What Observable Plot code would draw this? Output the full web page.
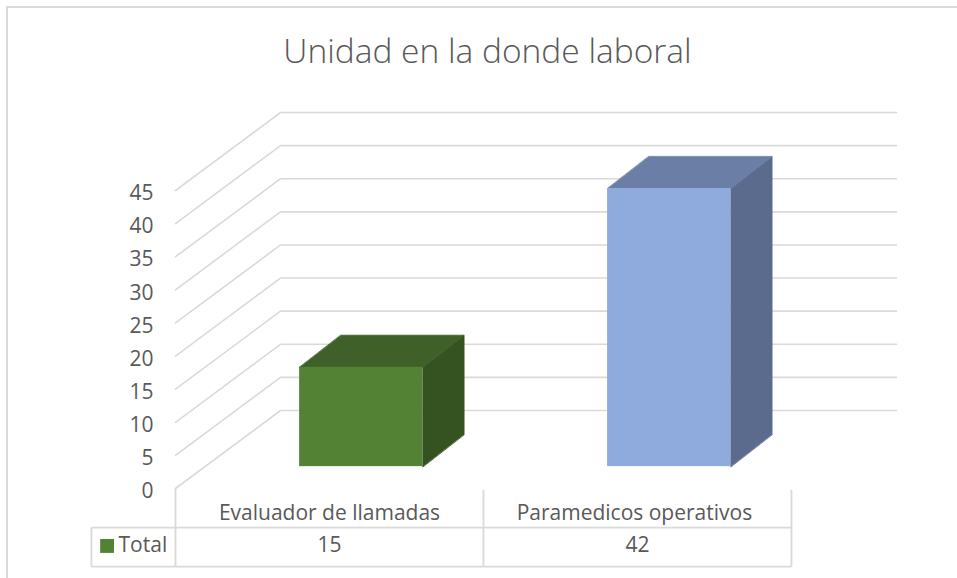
<!DOCTYPE html>
<html><head><meta charset="utf-8">
<script src="https://cdn.jsdelivr.net/npm/d3@7"></script>
<script src="https://cdn.jsdelivr.net/npm/@observablehq/plot@0.6"></script>
<style>
html,body{margin:0;padding:0;background:#fff;overflow:hidden}
#frame{position:absolute;left:6px;top:6px;width:951px;height:572px;border-left:2px solid #d9d9d9;border-top:2px solid #d9d9d9;box-sizing:border-box}
#title{position:absolute;left:0;top:0;width:975px;height:90px;text-align:center;font:300 33.5px/100px "Open Sans",sans-serif;color:#595959}
#chart{position:absolute;left:0;top:90px}
</style></head><body>
<div id="frame"></div>
<div id="title">Unidad en la donde laboral</div>
<div id="chart"></div>
<script>
const categories = ["Evaluador de llamadas", "Paramedicos operativos"];
const values = [15, 42];
const yTicks = [0, 5, 10, 15, 20, 25, 30, 35, 40, 45];
const seriesName = "Total";
const frontColors = ["#548235", "#8faadc"];
const topColors = ["#3f6129", "#6b7fa6"];
const sideColors = ["#345321", "#5a6b8d"];
const gridColor = "#d9d9d9", textColor = "#595959";
const font = "'Open Sans', sans-serif";
const labelSize = 21;

// oblique projection of the 3D chart, in scale units
const wallX = 0.341, wallY = 11.78;          // depth of the floor
const barOffsetX = 0.603, barBase = 3.3;     // front face of each bar
const barWidth = 0.4;
const barDepthX = 0.134, barDepthY = 4.85;
const row1 = -5.9, row2 = -11.8, labelY = -3.8, valueY = -8.6, tableLeft = -0.273;
const labelX = [0.5, 1.49];

const grid = yTicks.flatMap(t => [
  {t, x: 0, y: t},
  {t, x: wallX, y: t + wallY},
  {t, x: 2 + wallX, y: t + wallY}
]);

const bars = categories.map((c, i) => {
  const x1 = i + barOffsetX - barWidth / 2, x2 = x1 + barWidth;
  return {c, i, x1, x2, y1: barBase, y2: barBase + values[i]};
});
const topFace = bars.flatMap(b => [
  {i: b.i, x: b.x1, y: b.y2},
  {i: b.i, x: b.x2, y: b.y2},
  {i: b.i, x: b.x2 + barDepthX, y: b.y2 + barDepthY},
  {i: b.i, x: b.x1 + barDepthX, y: b.y2 + barDepthY}
]);
const sideFace = bars.flatMap(b => [
  {i: b.i, x: b.x2, y: b.y1},
  {i: b.i, x: b.x2, y: b.y2},
  {i: b.i, x: b.x2 + barDepthX, y: b.y2 + barDepthY},
  {i: b.i, x: b.x2 + barDepthX, y: b.y1 + barDepthY}
]);
const tableSegs = [
  [tableLeft, row1, 2, row1],
  [tableLeft, row2, 2, row2],
  [tableLeft, row1, tableLeft, row2],
  [0, 0, 0, row2],
  [1, -0.2, 1, row2],
  [2, -0.2, 2, row2]
].map(([x1, y1, x2, y2]) => ({x1, y1, x2, y2}));

const plot = Plot.plot({
  width: 957, height: 488,
  marginLeft: 175, marginRight: 61, marginTop: 22, marginBottom: 90,
  x: {domain: [0, 2 + wallX], axis: null},
  y: {domain: [0, 45 + wallY]},
  style: {background: "transparent", fontFamily: font},
  marks: [
    Plot.line(grid, {x: "x", y: "y", z: "t", stroke: gridColor, strokeWidth: 1.6}),
    Plot.axisY({ticks: yTicks, tickSize: 0, tickPadding: 22, label: null, fontSize: labelSize, dy: 3, color: textColor, fill: textColor}),
    Plot.link(tableSegs, {x1: "x1", y1: "y1", x2: "x2", y2: "y2", stroke: gridColor, strokeWidth: 1.8}),
    Plot.line(sideFace, {x: "x", y: "y", z: "i", curve: "linear-closed", fill: d => sideColors[d.i], stroke: d => sideColors[d.i], strokeWidth: 0.8}),
    Plot.line(topFace, {x: "x", y: "y", z: "i", curve: "linear-closed", fill: d => topColors[d.i], stroke: d => topColors[d.i], strokeWidth: 0.8}),
    Plot.rect(bars, {x1: "x1", x2: "x2", y1: "y1", y2: "y2", fill: d => frontColors[d.i]}),
    Plot.text(categories, {x: (d, i) => labelX[i], y: labelY, text: d => d, fontSize: labelSize, fill: textColor}),
    Plot.text(values, {x: (d, i) => i + 0.5, y: valueY, text: d => String(d), fontSize: labelSize, fill: textColor}),
    Plot.rect([seriesName], {x1: -0.243, x2: -0.198, y1: -7.7, y2: -9.8, fill: frontColors[0]}),
    Plot.text([seriesName], {x: -0.185, y: valueY, text: d => d, textAnchor: "start", fontSize: labelSize, fill: textColor})
  ]
});
document.getElementById("chart").append(plot);
</script>
</body></html>
